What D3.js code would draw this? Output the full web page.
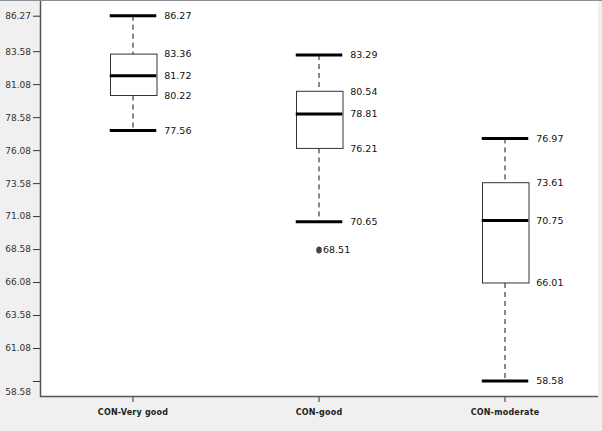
<!DOCTYPE html>
<html>
<head>
<meta charset="utf-8">
<script src="https://cdn.jsdelivr.net/npm/d3@7"></script>
<style>
  html, body { margin: 0; padding: 0; background: #f0f0f0; }
  svg { display: block; }
  .val { font-family: "DejaVu Sans", sans-serif; font-size: 9.5px; fill: #111; }
  .tick text { font-family: "DejaVu Sans", sans-serif; font-size: 9px; fill: #333; }
  .cat { font-family: "DejaVu Sans", sans-serif; font-size: 8px; font-weight: bold; fill: #222; letter-spacing: 0.2px; }
</style>
</head>
<body>
<svg id="chart" width="602" height="431"></svg>
<script>
// box plot values
const categories = ["CON-Very good", "CON-good", "CON-moderate"];
const whiskerHigh = [86.27, 83.29, 76.97];
const q3 = [83.36, 80.54, 73.61];
const median = [81.72, 78.81, 70.75];
const q1 = [80.22, 76.21, 66.01];
const whiskerLow = [77.56, 70.65, 58.58];
const outliers = [{ cat: "CON-good", value: 68.51 }];
const yTicks = [86.27, 83.58, 81.08, 78.58, 76.08, 73.58, 71.08, 68.58, 66.08, 63.58, 61.08, 58.58];
const yMinLabel = "58.58";

const boxes = categories.map((c, i) => ({
  cat: c, hi: whiskerHigh[i], q3: q3[i], med: median[i], q1: q1[i], lo: whiskerLow[i]
}));

const svg = d3.select("#chart");
const plotLeft = 40, plotRight = 598, plotTop = 1, plotBottom = 396;

// plot area
svg.append("rect")
  .attr("x", plotLeft).attr("y", plotTop)
  .attr("width", plotRight - plotLeft).attr("height", plotBottom - plotTop)
  .attr("fill", "#fff");
svg.append("line")
  .attr("x1", 0).attr("x2", 602).attr("y1", 0.5).attr("y2", 0.5)
  .attr("stroke", "#8a9098");

const x = d3.scaleBand().domain(categories).range([plotLeft, plotRight]);
const y = d3.scaleLinear().domain([57.443, 87.384]).range([plotBottom, plotTop]);
const bw = x.bandwidth() * 0.25;
const cx = d => x(d) + x.bandwidth() / 2;

// y axis
const yAxis = d3.axisLeft(y)
  .tickValues(yTicks)
  .tickSize(7)
  .tickPadding(2)
  .tickFormat(d => d === 58.58 ? "" : d.toFixed(2));
const ya = svg.append("g").attr("transform", `translate(${plotLeft},0)`).call(yAxis);
ya.select(".domain").remove();
ya.selectAll(".tick line").attr("stroke", "#333");
svg.append("text")
  .attr("x", 31).attr("y", plotBottom - 4)
  .attr("dy", "0.32em")
  .attr("text-anchor", "end")
  .style("font-family", "DejaVu Sans, sans-serif")
  .style("font-size", "9px")
  .style("fill", "#333")
  .text(yMinLabel);

// x axis
const xAxis = d3.axisBottom(x).tickSize(6).tickSizeOuter(0).tickFormat("");
const xa = svg.append("g").attr("transform", `translate(0,${plotBottom})`).call(xAxis);
xa.select(".domain").remove();
xa.selectAll(".tick line").attr("stroke", "#333");
svg.selectAll("text.cat")
  .data(categories)
  .join("text")
  .attr("class", "cat")
  .attr("x", d => cx(d))
  .attr("y", 415)
  .attr("text-anchor", "middle")
  .text(d => d);

// axis lines
svg.append("line")
  .attr("x1", plotLeft + 0.5).attr("x2", plotLeft + 0.5).attr("y1", plotTop).attr("y2", plotBottom + 1)
  .attr("stroke", "#555").attr("stroke-width", 1.5);
svg.append("line")
  .attr("x1", plotLeft).attr("x2", plotRight).attr("y1", plotBottom + 0.5).attr("y2", plotBottom + 0.5)
  .attr("stroke", "#555").attr("stroke-width", 1.5);

const g = svg.append("g");

// whiskers
g.selectAll("line.whisk-up")
  .data(boxes).join("line")
  .attr("class", "whisk-up")
  .attr("x1", d => cx(d.cat)).attr("x2", d => cx(d.cat))
  .attr("y1", d => y(d.hi)).attr("y2", d => y(d.q3))
  .attr("stroke", "#111").attr("stroke-dasharray", "5,4");
g.selectAll("line.whisk-down")
  .data(boxes).join("line")
  .attr("class", "whisk-down")
  .attr("x1", d => cx(d.cat)).attr("x2", d => cx(d.cat))
  .attr("y1", d => y(d.q1)).attr("y2", d => y(d.lo))
  .attr("stroke", "#111").attr("stroke-dasharray", "5,4");

// boxes
g.selectAll("rect.box")
  .data(boxes).join("rect")
  .attr("class", "box")
  .attr("x", d => Math.round(cx(d.cat) - bw / 2) + 0.5)
  .attr("y", d => y(d.q3))
  .attr("width", bw)
  .attr("height", d => y(d.q1) - y(d.q3))
  .attr("fill", "#fff")
  .attr("stroke", "#333");

// caps and medians
["hi", "lo", "med"].forEach(k => {
  g.selectAll(null)
    .data(boxes).join("line")
    .attr("x1", d => cx(d.cat) - bw / 2).attr("x2", d => cx(d.cat) + bw / 2)
    .attr("y1", d => y(d[k])).attr("y2", d => y(d[k]))
    .attr("stroke", "#000").attr("stroke-width", 3);
});

// value labels
const labels = [];
boxes.forEach(d => {
  ["hi", "q3", "med", "q1", "lo"].forEach(k => labels.push({ cat: d.cat, v: d[k] }));
});
g.selectAll("text.val")
  .data(labels).join("text")
  .attr("class", "val")
  .attr("x", d => cx(d.cat) + bw / 2 + 8)
  .attr("y", d => y(d.v))
  .attr("dy", "0.35em")
  .text(d => d.v.toFixed(2));

// outliers
g.selectAll("ellipse.out")
  .data(outliers).join("ellipse")
  .attr("class", "out")
  .attr("cx", d => cx(d.cat)).attr("cy", d => y(d.value))
  .attr("rx", 2.8).attr("ry", 3.5)
  .attr("fill", "#444");
g.selectAll("text.outval")
  .data(outliers).join("text")
  .attr("class", "val outval")
  .attr("x", d => cx(d.cat) + 4)
  .attr("y", d => y(d.value))
  .attr("dy", "0.35em")
  .text(d => d.value.toFixed(2));
</script>
</body>
</html>
